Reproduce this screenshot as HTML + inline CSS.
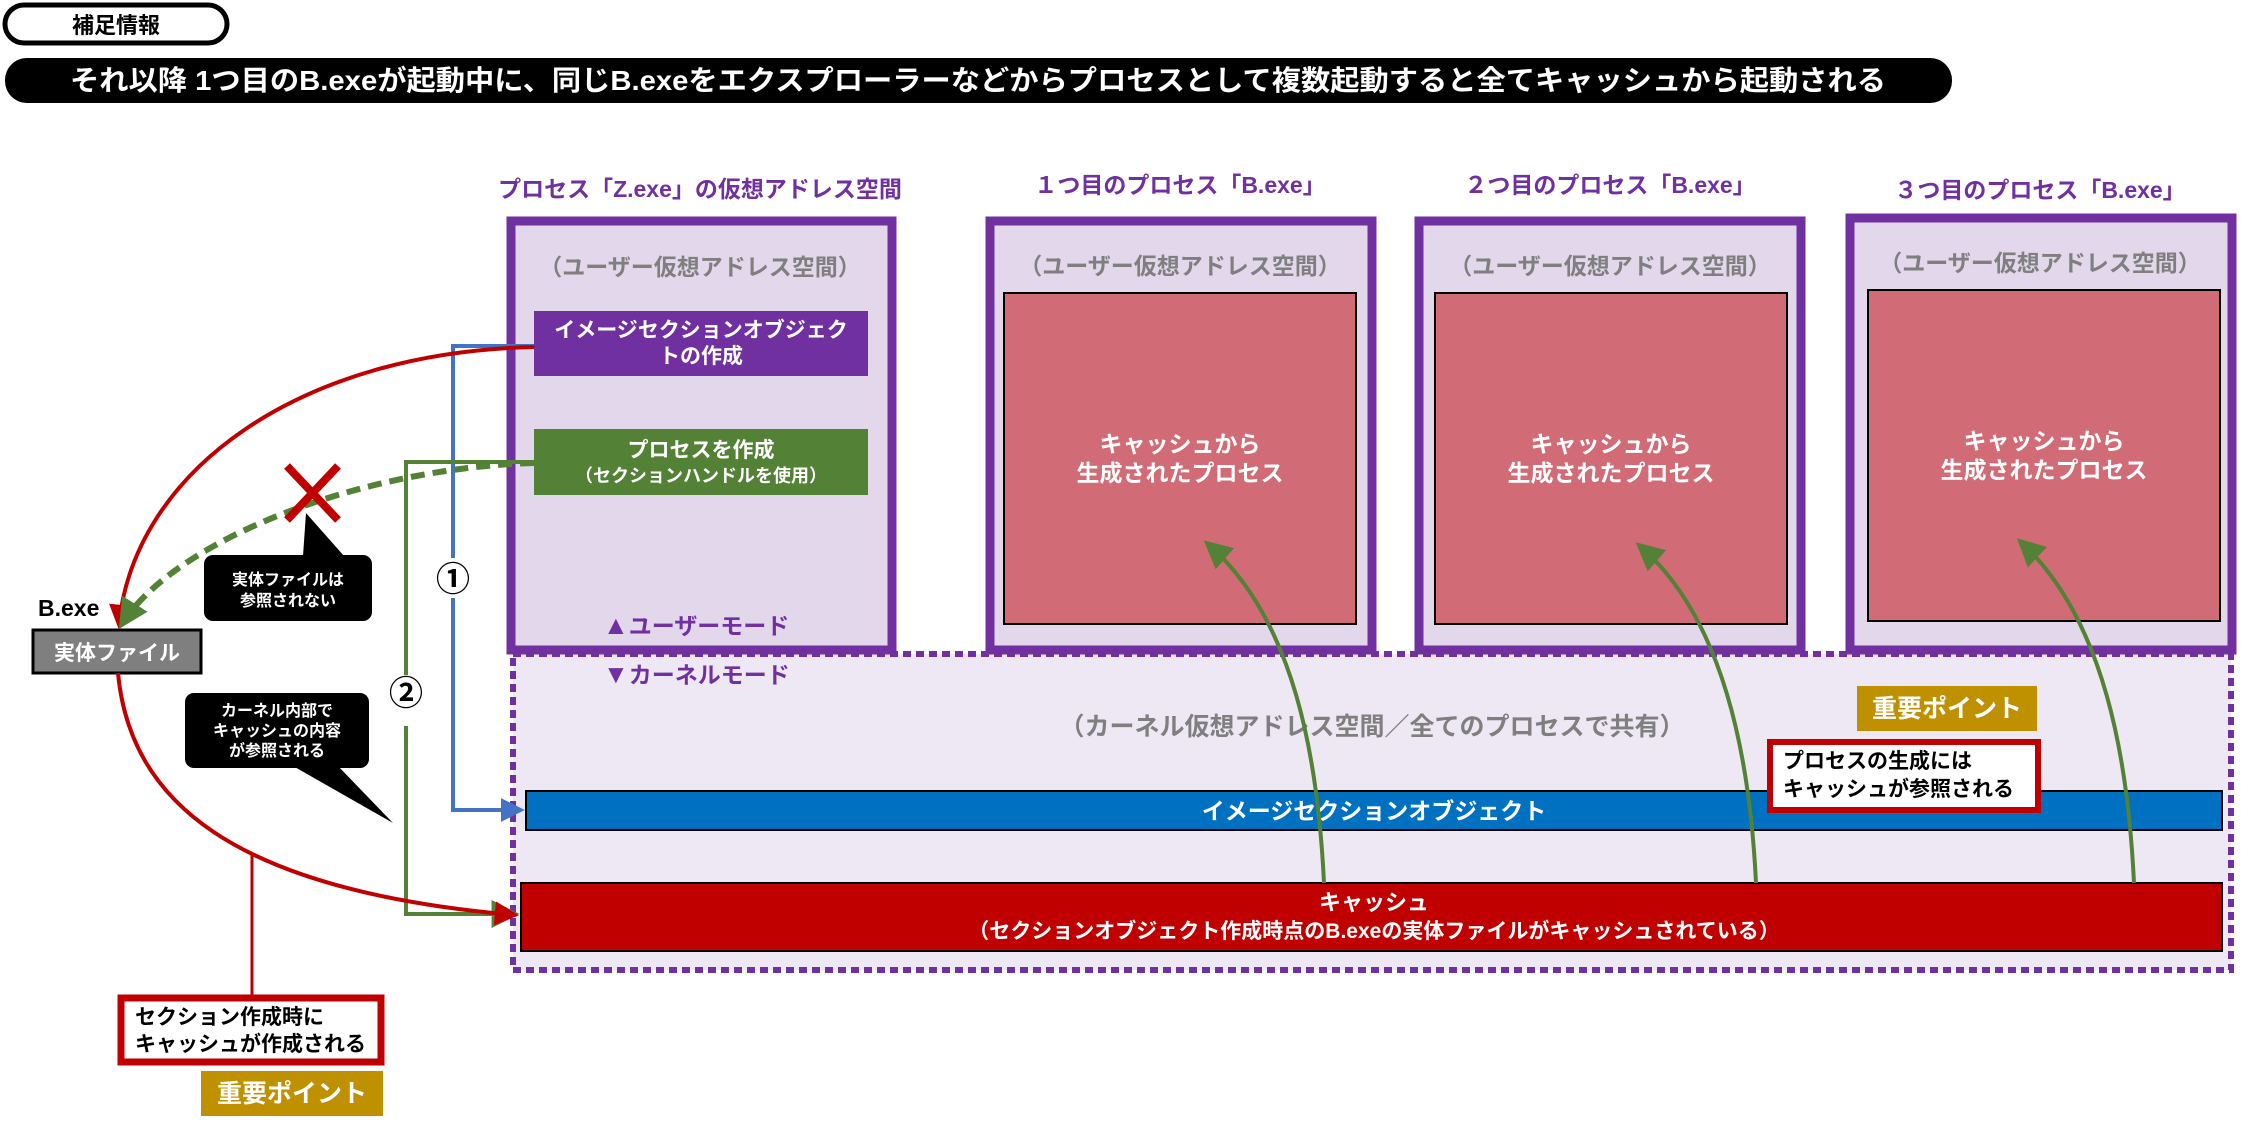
<!DOCTYPE html>
<html><head><meta charset="utf-8"><style>
html,body{margin:0;padding:0;background:#fff;}
svg{display:block;}
text{font-family:"Liberation Sans","Noto Sans CJK JP",sans-serif;font-weight:bold;}
</style></head><body>
<svg width="2241" height="1123" viewBox="0 0 2241 1123" xmlns="http://www.w3.org/2000/svg">
<defs>
<marker id="ab" viewBox="0 0 10 10" refX="8" refY="5" markerWidth="6" markerHeight="6" orient="auto" markerUnits="strokeWidth"><path d="M0,0 L10,5 L0,10 z" fill="#4472C4"/></marker>
<marker id="ag" viewBox="0 0 10 10" refX="8" refY="5" markerWidth="7" markerHeight="7" orient="auto" markerUnits="strokeWidth"><path d="M0,0 L10,5 L0,10 z" fill="#538135"/></marker>
<marker id="ag2" viewBox="0 0 10 10" refX="8" refY="5" markerWidth="5" markerHeight="5" orient="auto" markerUnits="strokeWidth"><path d="M0,0 L10,5 L0,10 z" fill="#538135"/></marker>
<marker id="ar" viewBox="0 0 10 10" refX="8" refY="5" markerWidth="6" markerHeight="6" orient="auto" markerUnits="strokeWidth"><path d="M0,0 L10,5 L0,10 z" fill="#C00000"/></marker>
</defs>

<!-- header -->
<rect x="5" y="5" width="222" height="38" rx="19" fill="#fff" stroke="#000" stroke-width="5"/>
<text x="116" y="33" font-size="22" text-anchor="middle" fill="#000">補足情報</text>
<rect x="5" y="58" width="1947" height="45" rx="22" fill="#000"/>
<text x="70" y="90" font-size="28" fill="#fff" textLength="1816" lengthAdjust="spacingAndGlyphs">それ以降 1つ目のB.exeが起動中に、同じB.exeをエクスプローラーなどからプロセスとして複数起動すると全てキャッシュから起動される</text>

<!-- kernel area -->
<rect x="513" y="654" width="1718" height="316" fill="#EEE8F4" stroke="#7030A0" stroke-width="6" stroke-dasharray="8 5"/>

<!-- process boxes -->
<rect x="511" y="221" width="381" height="429" fill="#E2D7EB" stroke="#7030A0" stroke-width="9"/>
<rect x="990" y="221" width="382" height="429" fill="#E2D7EB" stroke="#7030A0" stroke-width="9"/>
<rect x="1419" y="221" width="382" height="429" fill="#E2D7EB" stroke="#7030A0" stroke-width="9"/>
<rect x="1850" y="218" width="382" height="432" fill="#E2D7EB" stroke="#7030A0" stroke-width="9"/>

<text x="700" y="197" font-size="23" text-anchor="middle" fill="#7030A0">プロセス「Z.exe」の仮想アドレス空間</text>
<text x="1180" y="193" font-size="23" text-anchor="middle" fill="#7030A0">１つ目のプロセス「B.exe」</text>
<text x="1610" y="193" font-size="23" text-anchor="middle" fill="#7030A0">２つ目のプロセス「B.exe」</text>
<text x="2040" y="198" font-size="23" text-anchor="middle" fill="#7030A0">３つ目のプロセス「B.exe」</text>

<text x="700" y="275" font-size="23" text-anchor="middle" fill="#7F7F7F">（ユーザー仮想アドレス空間）</text>
<text x="1180" y="274" font-size="23" text-anchor="middle" fill="#7F7F7F">（ユーザー仮想アドレス空間）</text>
<text x="1610" y="274" font-size="23" text-anchor="middle" fill="#7F7F7F">（ユーザー仮想アドレス空間）</text>
<text x="2040" y="271" font-size="23" text-anchor="middle" fill="#7F7F7F">（ユーザー仮想アドレス空間）</text>

<rect x="1004" y="293" width="352" height="331" fill="#D16B75" stroke="#000" stroke-width="2"/>
<rect x="1435" y="293" width="352" height="331" fill="#D16B75" stroke="#000" stroke-width="2"/>
<rect x="1868" y="290" width="352" height="331" fill="#D16B75" stroke="#000" stroke-width="2"/>
<g font-size="23" fill="#fff" text-anchor="middle">
<text x="1180" y="452">キャッシュから</text><text x="1180" y="481">生成されたプロセス</text>
<text x="1611" y="452">キャッシュから</text><text x="1611" y="481">生成されたプロセス</text>
<text x="2044" y="449">キャッシュから</text><text x="2044" y="478">生成されたプロセス</text>
</g>

<!-- Z box buttons -->
<rect x="534" y="311" width="334" height="65" fill="#7030A0"/>
<text x="701" y="337" font-size="21" text-anchor="middle" fill="#fff">イメージセクションオブジェク</text>
<text x="701" y="363" font-size="21" text-anchor="middle" fill="#fff">トの作成</text>
<rect x="534" y="429" width="334" height="66" fill="#538135"/>
<text x="701" y="457" font-size="21" text-anchor="middle" fill="#fff">プロセスを作成</text>
<text x="701" y="482" font-size="18" text-anchor="middle" fill="#fff">（セクションハンドルを使用）</text>

<text x="603" y="634" font-size="23" fill="#7030A0"><tspan font-size="26">▲</tspan>ユーザーモード</text>
<text x="603" y="683" font-size="23" fill="#7030A0"><tspan font-size="26">▼</tspan>カーネルモード</text>
<text x="1372" y="735" font-size="25" text-anchor="middle" fill="#7F7F7F">（カーネル仮想アドレス空間／全てのプロセスで共有）</text>

<!-- bars -->
<rect x="526" y="791" width="1696" height="39" fill="#0070C0" stroke="#000" stroke-width="2"/>
<text x="1374" y="819" font-size="23" text-anchor="middle" fill="#fff">イメージセクションオブジェクト</text>
<rect x="521" y="883" width="1701" height="68" fill="#C00000" stroke="#000" stroke-width="2"/>
<text x="1374" y="910" font-size="22" text-anchor="middle" fill="#fff">キャッシュ</text>
<text x="1374" y="938" font-size="21" text-anchor="middle" fill="#fff">（セクションオブジェクト作成時点のB.exeの実体ファイルがキャッシュされている）</text>

<!-- important point right -->
<rect x="1857" y="686" width="180" height="45" fill="#BF9000"/>
<text x="1947" y="717" font-size="25" text-anchor="middle" fill="#fff">重要ポイント</text>
<rect x="1770" y="742" width="268" height="68" fill="#fff" stroke="#C00000" stroke-width="6"/>
<text x="1783" y="768" font-size="21" fill="#000">プロセスの生成には</text>
<text x="1783" y="796" font-size="21" fill="#000">キャッシュが参照される</text>

<!-- green curves up to processes -->
<path d="M1324,883 C1318,760 1295,620 1208,544" fill="none" stroke="#538135" stroke-width="4" marker-end="url(#ag)"/>
<path d="M1756,883 C1750,760 1725,620 1640,546" fill="none" stroke="#538135" stroke-width="4" marker-end="url(#ag)"/>
<path d="M2134,883 C2128,760 2105,620 2021,542" fill="none" stroke="#538135" stroke-width="4" marker-end="url(#ag)"/>

<!-- left side -->
<text x="38" y="616" font-size="23" fill="#000" font-weight="normal">B.exe</text>
<rect x="33" y="630" width="168" height="43" fill="#7F7F7F" stroke="#000" stroke-width="3"/>
<text x="117" y="660" font-size="21" text-anchor="middle" fill="#fff">実体ファイル</text>

<!-- blue connector -->
<path d="M534,346 L453,346 L453,558" fill="none" stroke="#4472C4" stroke-width="4"/>
<path d="M453,598 L453,810 L520,810" fill="none" stroke="#4472C4" stroke-width="4" marker-end="url(#ab)"/>
<text x="453" y="591" font-size="34" text-anchor="middle" fill="#000" font-weight="normal">①</text>

<!-- green connector -->
<path d="M534,462 L406,462 L406,675" fill="none" stroke="#538135" stroke-width="4"/>
<path d="M406,726 L406,914 L514,914" fill="none" stroke="#538135" stroke-width="4" marker-end="url(#ag)"/>
<text x="406" y="705" font-size="34" text-anchor="middle" fill="#000" font-weight="normal">②</text>

<!-- red curve upper -->
<path d="M534,347 C300,352 135,470 119,624" fill="none" stroke="#C00000" stroke-width="4" marker-end="url(#ar)"/>
<!-- green dashed -->
<path d="M534,463 C360,468 175,540 122,624" fill="none" stroke="#538135" stroke-width="6" stroke-dasharray="14 8" marker-end="url(#ag2)"/>
<!-- red X -->
<path d="M287,466 L338,520 M338,466 L287,520" stroke="#C00000" stroke-width="8"/>

<!-- callout black 1 -->
<path d="M306,513 L303,556 L344,556 z" fill="#000"/>
<rect x="204" y="555" width="168" height="66" rx="9" fill="#000"/>
<text x="288" y="585" font-size="16" text-anchor="middle" fill="#fff">実体ファイルは</text>
<text x="288" y="606" font-size="16" text-anchor="middle" fill="#fff">参照されない</text>

<!-- red curve lower -->
<path d="M118,673 C130,800 230,890 514,915" fill="none" stroke="#C00000" stroke-width="4" marker-end="url(#ar)"/>
<line x1="252" y1="853" x2="252" y2="996" stroke="#C00000" stroke-width="3"/>

<!-- callout black 2 -->
<path d="M293,766 L393,823 L338,766 z" fill="#000"/>
<rect x="185" y="693" width="184" height="75" rx="9" fill="#000"/>
<text x="277" y="716" font-size="16" text-anchor="middle" fill="#fff">カーネル内部で</text>
<text x="277" y="736" font-size="16" text-anchor="middle" fill="#fff">キャッシュの内容</text>
<text x="277" y="756" font-size="16" text-anchor="middle" fill="#fff">が参照される</text>

<!-- bottom callout -->
<rect x="121" y="998" width="260" height="64" fill="#fff" stroke="#C00000" stroke-width="7"/>
<text x="135" y="1024" font-size="21" fill="#000">セクション作成時に</text>
<text x="135" y="1051" font-size="21" fill="#000">キャッシュが作成される</text>
<rect x="201" y="1071" width="182" height="45" fill="#BF9000"/>
<text x="292" y="1102" font-size="25" text-anchor="middle" fill="#fff">重要ポイント</text>
</svg>
</body></html>
